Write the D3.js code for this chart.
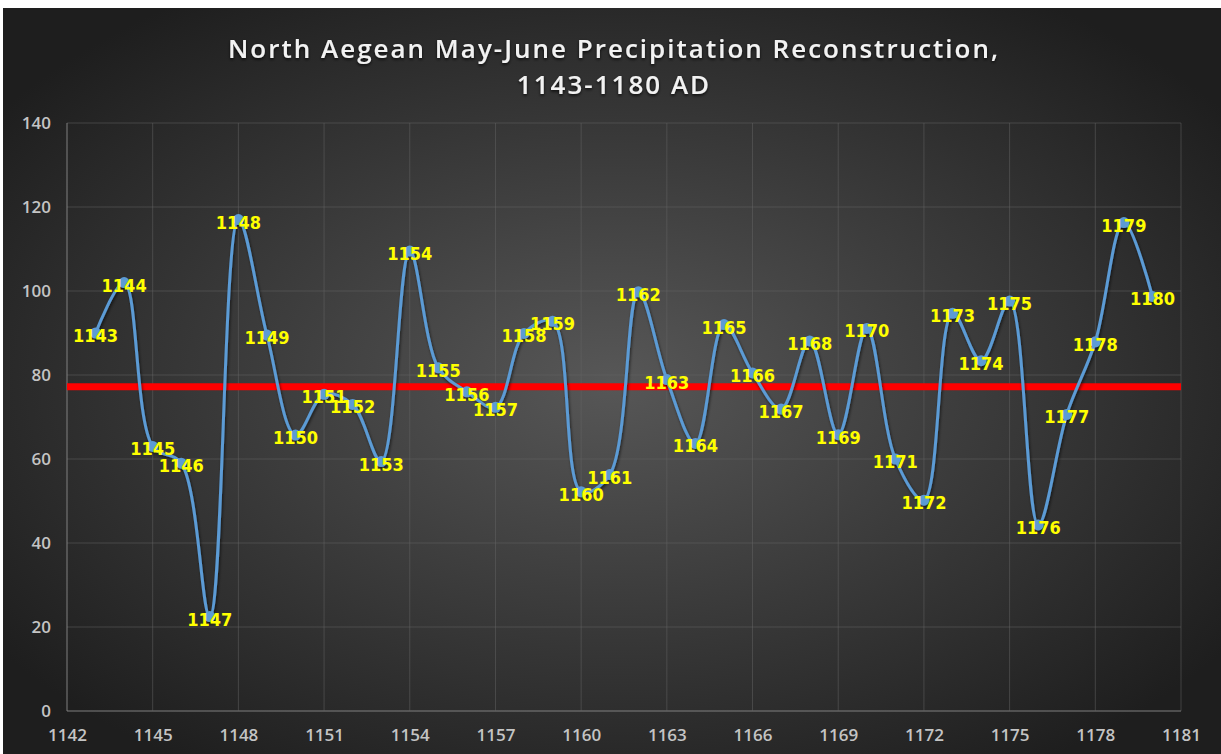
<!DOCTYPE html>
<html>
<head>
<meta charset="utf-8">
<script src="https://cdn.jsdelivr.net/npm/d3@7"></script>
<style>
  html, body { margin: 0; padding: 0; background: #fff; }
  svg { display: block; }
</style>
</head>
<body>
<svg id="chart" width="1221" height="754"></svg>
<script>
// data
const years = [1143, 1144, 1145, 1146, 1147, 1148, 1149, 1150, 1151, 1152,
    1153, 1154, 1155, 1156, 1157, 1158, 1159, 1160, 1161, 1162,
    1163, 1164, 1165, 1166, 1167, 1168, 1169, 1170, 1171, 1172,
    1173, 1174, 1175, 1176, 1177, 1178, 1179, 1180];
const precip = [90, 102, 63, 59, 22.5, 117, 89.5, 65.7, 75.4, 73,
    59.4, 109.5, 81.7, 76, 72.3, 89.9, 92.8, 52.2, 56.3, 99.8,
    78.9, 63.7, 92, 80.5, 71.9, 88.1, 65.8, 91.1, 60, 50.2,
    94.7, 83.4, 97.6, 44.3, 70.6, 87.9, 116.3, 98.7];
const referenceLevel = 77.2;
const xTicks = [1142, 1145, 1148, 1151, 1154, 1157, 1160, 1163, 1166, 1169, 1172, 1175, 1178, 1181];
const yTicks = [0, 20, 40, 60, 80, 100, 120, 140];
const titleLines = ["North Aegean May-June Precipitation Reconstruction,", "1143-1180 AD"];

const W = 1221, H = 754;
const margin = { left: 67, right: 40, top: 123, bottom: 43 };

const svg = d3.select("#chart");
const defs = svg.append("defs");

const bg = defs.append("radialGradient")
    .attr("id", "bg")
    .attr("cx", "50%").attr("cy", "50%").attr("r", "62%");
bg.append("stop").attr("offset", "0%").attr("stop-color", "#575757");
bg.append("stop").attr("offset", "100%").attr("stop-color", "#1e1e1e");

const shadow = defs.append("filter").attr("id", "shadow")
    .attr("x", "-5%").attr("y", "-5%").attr("width", "110%").attr("height", "115%");
shadow.append("feDropShadow")
    .attr("dx", 1).attr("dy", 2).attr("stdDeviation", 1.5)
    .attr("flood-color", "#000").attr("flood-opacity", 0.6);

const glow = defs.append("filter").attr("id", "titleShadow");
glow.append("feDropShadow")
    .attr("dx", 0).attr("dy", 1.5).attr("stdDeviation", 1.5)
    .attr("flood-color", "#000").attr("flood-opacity", 0.8);

// chart background (the picture is cropped with a thin white edge top/left)
svg.append("rect")
    .attr("x", 3).attr("y", 8)
    .attr("width", W - 3).attr("height", H - 8)
    .attr("fill", "url(#bg)");

const x = d3.scaleLinear()
    .domain([1142, 1181])
    .range([margin.left, W - margin.right]);
const y = d3.scaleLinear()
    .domain([0, 140])
    .range([H - margin.bottom, margin.top]);

// gridlines
const grid = svg.append("g");
grid.selectAll("line.h")
    .data(yTicks)
    .enter().append("line")
        .attr("class", "h")
        .attr("x1", x(1142)).attr("x2", x(1181))
        .attr("y1", d => y(d)).attr("y2", d => y(d))
        .attr("stroke", d => d === 0 ? "#8a8a8a" : "#666")
        .attr("stroke-opacity", d => d === 0 ? 0.9 : 0.5)
        .attr("stroke-width", 1);
grid.selectAll("line.v")
    .data(xTicks)
    .enter().append("line")
        .attr("class", "v")
        .attr("x1", d => x(d)).attr("x2", d => x(d))
        .attr("y1", y(140)).attr("y2", y(0))
        .attr("stroke", d => d === 1142 ? "#8a8a8a" : "#666")
        .attr("stroke-opacity", d => d === 1142 ? 0.9 : 0.5)
        .attr("stroke-width", 1);

// axes labels
const yAxis = d3.axisLeft(y).tickValues(yTicks).tickSize(0).tickPadding(16);
svg.append("g")
    .attr("transform", `translate(${margin.left},0)`)
    .call(yAxis)
    .call(g => g.select(".domain").remove())
    .selectAll("text")
        .attr("fill", "#c4c4c4")
        .style("font-family", "'Open Sans', sans-serif")
        .style("font-weight", 600)
        .style("font-size", "17px");

const xAxis = d3.axisBottom(x).tickValues(xTicks).tickSize(0).tickPadding(18).tickFormat(d3.format("d"));
svg.append("g")
    .attr("transform", `translate(0,${y(0)})`)
    .call(xAxis)
    .call(g => g.select(".domain").remove())
    .selectAll("text")
        .attr("fill", "#c4c4c4")
        .style("font-family", "'Open Sans', sans-serif")
        .style("font-weight", 600)
        .style("font-size", "17px");

// title
svg.append("g")
    .attr("filter", "url(#titleShadow)")
    .selectAll("text")
    .data(titleLines)
    .enter().append("text")
        .attr("x", 614)
        .attr("y", (d, i) => 58 + i * 35.5)
        .attr("text-anchor", "middle")
        .attr("fill", "#f2f2f2")
        .style("font-family", "'Open Sans', sans-serif")
        .style("font-weight", 600)
        .style("font-size", "26px")
        .style("letter-spacing", "2px")
        .text(d => d);

// reference line
svg.append("line")
    .attr("x1", x(1142)).attr("x2", x(1181))
    .attr("y1", y(referenceLevel)).attr("y2", y(referenceLevel))
    .attr("stroke", "#ff0000")
    .attr("stroke-width", 7);

// smoothed series
const pts = years.map((yr, i) => ({ year: yr, value: precip[i] }));
const line = d3.line()
    .x(d => x(d.year))
    .y(d => y(d.value))
    .curve(d3.curveCatmullRom.alpha(0.5));

const series = svg.append("g").attr("filter", "url(#shadow)");
series.append("path")
    .datum(pts)
    .attr("d", line)
    .attr("fill", "none")
    .attr("stroke", "#5b9bd5")
    .attr("stroke-width", 3);
series.selectAll("circle")
    .data(pts)
    .enter().append("circle")
        .attr("cx", d => x(d.year))
        .attr("cy", d => y(d.value))
        .attr("r", 5.5)
        .attr("fill", "#5b9bd5");

// data labels (year names), centred on the points
svg.append("g")
    .selectAll("text")
    .data(pts)
    .enter().append("text")
        .attr("x", d => x(d.year))
        .attr("y", d => y(d.value) + 9)
        .attr("text-anchor", "middle")
        .attr("fill", "#ffff00")
        .style("font-family", "'DejaVu Sans Condensed', 'DejaVu Sans', sans-serif")
        .style("font-stretch", "condensed")
        .style("font-weight", "bold")
        .style("font-size", "18px")
        .text(d => d.year);
</script>
</body>
</html>
